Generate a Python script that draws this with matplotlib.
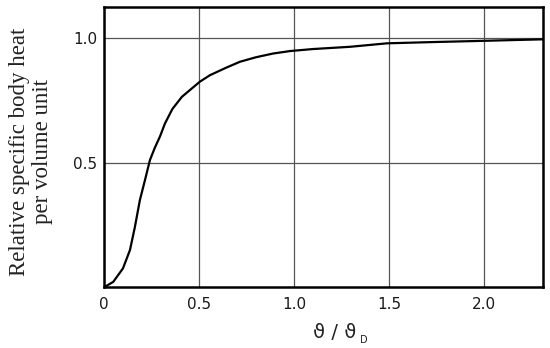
import numpy as np
import matplotlib.pyplot as plt

# values (theta/theta_D vs relative heat)
t_ratio = [0.0, 0.02, 0.049, 0.10, 0.137, 0.163, 0.189, 0.216, 0.242, 0.268, 0.295, 0.321, 0.36, 0.41,
           0.505, 0.558, 0.64, 0.716, 0.80, 0.89, 0.98, 1.10, 1.295, 1.49, 1.73, 2.0, 2.15, 2.31]
rel_heat = [0.0, 0.008, 0.021, 0.075, 0.149, 0.242, 0.349, 0.43, 0.51, 0.56, 0.605, 0.657, 0.715, 0.764,
            0.825, 0.851, 0.88, 0.905, 0.923, 0.938, 0.948, 0.956, 0.965, 0.979, 0.984, 0.989, 0.992, 0.995]

x_ticks = [0, 0.5, 1.0, 1.5, 2.0]
x_ticklabels = ["0", "0.5", "1.0", "1.5", "2.0"]
y_ticks = [0.5, 1.0]
y_ticklabels = ["0.5", "1.0"]

fig = plt.figure(figsize=(5.5, 3.48), dpi=100)
ax = fig.add_axes([0.189, 0.175, 0.798, 0.805])

ax.plot(t_ratio, rel_heat, color="black", lw=1.6, zorder=3)

ax.set_xlim(0, 2.31)
ax.set_ylim(0, 1.125)
ax.set_xticks(x_ticks)
ax.set_xticklabels(x_ticklabels)
ax.set_yticks(y_ticks)
ax.set_yticklabels(y_ticklabels)
ax.tick_params(length=0, labelsize=11, colors="#1a1a1a")
ax.tick_params(axis="y", pad=5)
ax.tick_params(axis="x", pad=7)
ax.grid(True, color="#555555", lw=0.9)

for s in ax.spines.values():
    s.set_linewidth(1.8)
    s.set_zorder(4)

# y label, two centred lines in a serif face
fig.text(31 / 550, 1 - 152 / 348, "Relative specific body heat\nper volume unit",
         family="Liberation Serif", fontsize=16.5, color="#222222", linespacing=1.1,
         rotation=90, ha="center", va="center", multialignment="center")

# x label: theta with a small "D" subscript
fig.text(313 / 550, 1 - 333 / 348, "ϑ / ϑ", family="DejaVu Sans",
         fontsize=14, color="#222222", ha="left", va="center")
fig.text(360 / 550, 1 - 340 / 348, "D", family="DejaVu Sans",
         fontsize=7, color="#222222", ha="left", va="center")

fig.savefig("out.png", dpi=100)
